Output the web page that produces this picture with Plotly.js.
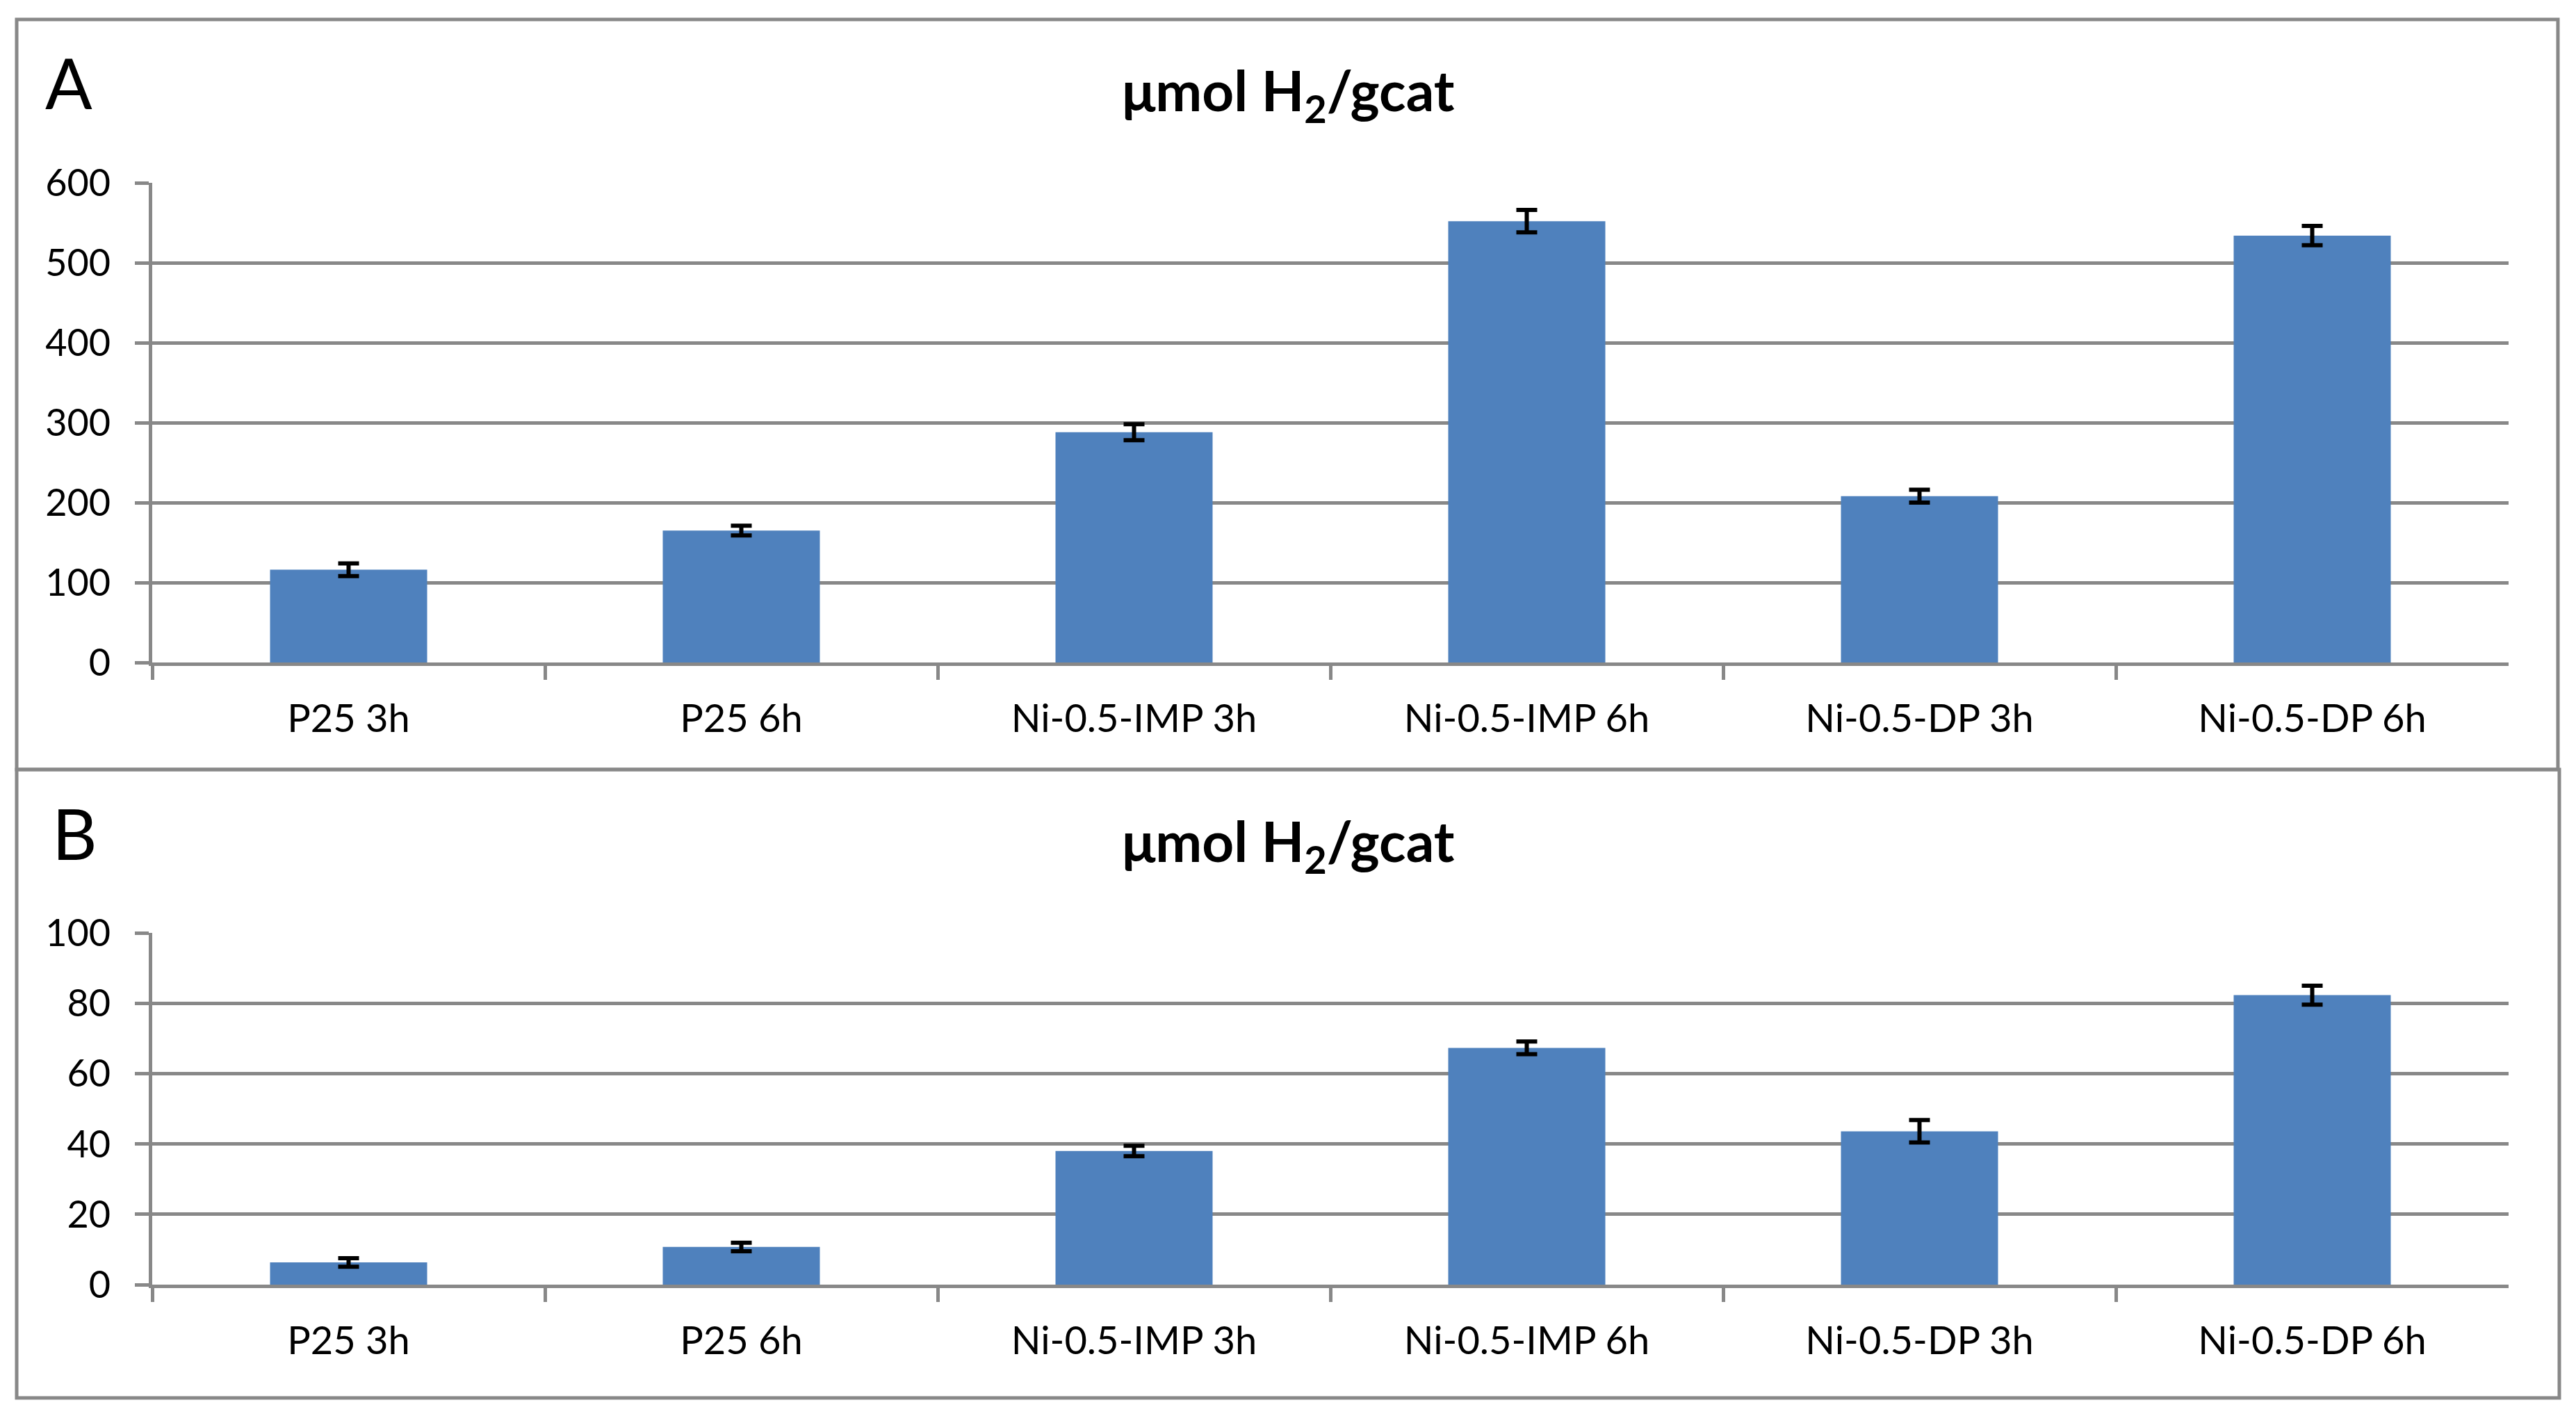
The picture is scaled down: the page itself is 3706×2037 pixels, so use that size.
<!DOCTYPE html>
<html><head><meta charset="utf-8">
<script src="https://cdn.plot.ly/plotly-3.0.1.min.js"></script>
<style>html,body{margin:0;padding:0;background:#fff;}#chart{width:3706px;height:2037px;}</style>
</head><body><div id="chart"></div>
<script>
const categories = ["P25 3h","P25 6h","Ni-0.5-IMP 3h","Ni-0.5-IMP 6h","Ni-0.5-DP 3h","Ni-0.5-DP 6h"];
const valuesA = [116, 165, 288, 552, 208, 534];
const errorsA = [8, 6, 10, 14, 8, 12];
const valuesB = [6.3, 10.7, 38, 67.3, 43.6, 82.3];
const errorsB = [1.2, 1.2, 1.5, 1.8, 3.2, 2.7];
const ticksA = [0, 100, 200, 300, 400, 500, 600];
const ticksB = [0, 20, 40, 60, 80, 100];
const panelLabels = ["A", "B"];
const panelTitle = "μmol H<sub>2</sub>/gcat";

const W = 3706, H = 2037;
const px = v => v / W;
const py = v => 1 - v / H;
const GRAY = "#888888";
const BLUE = "#4F81BD";
const FONT = "Lato, 'Open Sans', sans-serif";

function barTrace(vals, errs, xa, ya) {
  return {
    type: "bar", x: categories, y: vals, xaxis: xa, yaxis: ya,
    marker: {color: BLUE, line: {width: 0}},
    error_y: {type: "data", array: errs, visible: true, color: "#000", thickness: 6, width: 15},
    hoverinfo: "x+y", showlegend: false
  };
}

const xDom = [px(219), px(3609)];
function xAxis(anchor) {
  return {
    domain: xDom, anchor: anchor, type: "category",
    showline: true, linecolor: GRAY, linewidth: 5,
    ticks: "outside", tickson: "boundaries", ticklen: 20, tickwidth: 5, tickcolor: GRAY,
    showgrid: false, zeroline: false,
    tickfont: {family: FONT, size: 56, color: "#000"},
    ticklabelstandoff: 28, automargin: false, fixedrange: true
  };
}
function yAxis(anchor, dom, ticks) {
  return {
    domain: dom, anchor: anchor, range: [ticks[0], ticks[ticks.length - 1]],
    tickvals: ticks, ticktext: ticks.map(String),
    showline: true, linecolor: GRAY, linewidth: 5,
    showgrid: true, gridcolor: GRAY, gridwidth: 5, zeroline: false,
    ticks: "outside", ticklen: 20, tickwidth: 5, tickcolor: GRAY,
    tickfont: {family: FONT, size: 54, color: "#000"},
    ticklabelstandoff: 24, automargin: false, fixedrange: true
  };
}

const data = [
  barTrace(valuesA, errorsA, "x", "y"),
  barTrace(valuesB, errorsB, "x2", "y2")
];

const layout = {
  width: W, height: H,
  margin: {l: 0, r: 0, t: 0, b: 0, pad: 0},
  paper_bgcolor: "#fff", plot_bgcolor: "#fff",
  bargap: 0.6,
  showlegend: false,
  xaxis: xAxis("y"),
  yaxis: yAxis("x", [py(953), py(263)], ticksA),
  xaxis2: xAxis("y2"),
  yaxis2: yAxis("x2", [py(1848), py(1342)], ticksB),
  shapes: [
    {type: "rect", xref: "paper", yref: "paper", x0: px(24), x1: px(3680), y0: py(1107), y1: py(28),
     line: {color: GRAY, width: 5}, fillcolor: "rgba(0,0,0,0)", layer: "below"},
    {type: "rect", xref: "paper", yref: "paper", x0: px(24), x1: px(3682), y0: py(2011), y1: py(1107),
     line: {color: GRAY, width: 5}, fillcolor: "rgba(0,0,0,0)", layer: "below"}
  ],
  annotations: [
    {text: panelLabels[0], xref: "paper", yref: "paper", x: px(99), y: py(118), xanchor: "center", yanchor: "middle",
     showarrow: false, font: {family: FONT, size: 100, color: "#000"}},
    {text: panelLabels[1], xref: "paper", yref: "paper", x: px(107), y: py(1198), xanchor: "center", yanchor: "middle",
     showarrow: false, font: {family: FONT, size: 100, color: "#000"}},
    {text: "<b>" + panelTitle + "</b>", xref: "paper", yref: "paper", x: 0.5, y: py(135), xanchor: "center", yanchor: "middle",
     showarrow: false, font: {family: FONT, size: 80, color: "#000"}},
    {text: "<b>" + panelTitle + "</b>", xref: "paper", yref: "paper", x: 0.5, y: py(1215), xanchor: "center", yanchor: "middle",
     showarrow: false, font: {family: FONT, size: 80, color: "#000"}}
  ]
};

Plotly.newPlot("chart", data, layout, {displayModeBar: false, staticPlot: true});
</script>
</body></html>
